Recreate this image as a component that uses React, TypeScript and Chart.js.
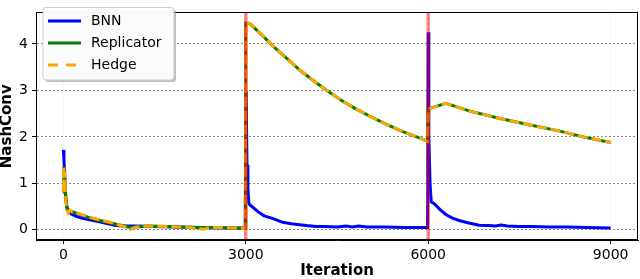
import React, { useEffect, useRef } from 'react';
import { Chart, registerables } from 'chart.js';

Chart.register(...registerables);

const seriesLabels = ['BNN', 'Replicator', 'Hedge'];
const seriesColors = ['#0000ff', '#008000', '#ffa500'];

const bnnIter = [0, 10, 25, 40, 60, 90, 130, 213, 300, 450, 540, 700, 870, 1000, 1200, 1500, 1800, 2200, 2600, 2990,
  3005, 3020, 3035, 3050, 3066, 3200, 3300, 3450, 3607, 3750, 3885, 4000, 4158, 4300, 4500, 4650, 4750, 4850, 5000, 5300, 5600, 5990,
  6000, 6010, 6030, 6050, 6098, 6200, 6290, 6400, 6508, 6650, 6836, 7000, 7100, 7200, 7300, 7492, 7700, 8000, 8300, 8600, 9000];
const bnnVal = [1.72, 1.5, 1.0, 0.7, 0.48, 0.4, 0.34, 0.29, 0.25, 0.21, 0.19, 0.14, 0.09, 0.08, 0.08, 0.07, 0.06, 0.05, 0.04, 0.04,
  3.0, 1.4, 0.9, 0.58, 0.54, 0.39, 0.3, 0.24, 0.16, 0.13, 0.11, 0.09, 0.07, 0.07, 0.06, 0.08, 0.06, 0.08, 0.06, 0.06, 0.05, 0.05,
  4.25, 2.0, 1.0, 0.6, 0.56, 0.43, 0.33, 0.25, 0.2, 0.15, 0.1, 0.09, 0.08, 0.1, 0.08, 0.07, 0.07, 0.06, 0.06, 0.05, 0.04];

const dynIter = [0, 5, 10, 20, 30, 45, 60, 80, 110, 150, 213, 400, 600, 800, 1000, 1100, 1200, 1400, 1700, 2000, 2300, 2400, 2800, 2990,
  3000, 3066, 3284, 3475, 3693, 3885, 4104, 4322, 4568, 4787, 5033, 5279, 5552, 5852, 5990,
  6000, 6016, 6290, 6672, 7164, 7656, 8148, 8585, 9000];
const repVal = [0.8, 1.35, 0.85, 1.3, 0.9, 0.6, 0.45, 0.38, 0.4, 0.39, 0.36, 0.27, 0.2, 0.14, 0.08, 0.05, 0.06, 0.08, 0.07, 0.06, 0.05, 0.05, 0.04, 0.03,
  4.45, 4.44, 4.17, 3.92, 3.67, 3.44, 3.22, 3.01, 2.79, 2.62, 2.45, 2.29, 2.13, 1.98, 1.91,
  2.6, 2.61, 2.72, 2.56, 2.4, 2.26, 2.13, 1.99, 1.88];
const hedgeVal = [0.82, 1.38, 0.8, 1.25, 0.95, 0.55, 0.42, 0.36, 0.42, 0.38, 0.37, 0.28, 0.21, 0.15, 0.07, 0.01, 0.06, 0.08, 0.07, 0.06, 0.01, 0.05, 0.04, 0.03,
  4.45, 4.44, 4.17, 3.92, 3.67, 3.44, 3.22, 3.01, 2.79, 2.62, 2.45, 2.29, 2.13, 1.98, 1.9,
  2.6, 2.61, 2.72, 2.56, 2.4, 2.26, 2.13, 1.99, 1.88];

const xTicks = [0, 3000, 6000, 9000];
const yTicks = [0, 1, 2, 3, 4];
const resetIters = [3000, 6000];

const FONT = "'DejaVu Sans', sans-serif";

const overlay = {
  id: 'overlay',
  afterDatasetsDraw(chart: any) {
    const { ctx, chartArea: a, scales } = chart;
    const x = scales.x;
    ctx.save();
    resetIters.forEach((v) => {
      const px = x.getPixelForValue(v);
      ctx.strokeStyle = 'rgba(255,0,0,0.45)';
      ctx.lineWidth = 3.5;
      ctx.setLineDash([]);
      ctx.beginPath();
      ctx.moveTo(px, a.top);
      ctx.lineTo(px, a.bottom);
      ctx.stroke();
      ctx.strokeStyle = 'rgba(220,0,0,0.35)';
      ctx.lineWidth = 1;
      ctx.setLineDash([3, 2]);
      ctx.beginPath();
      ctx.moveTo(px, a.top);
      ctx.lineTo(px, a.bottom);
      ctx.stroke();
    });
    ctx.restore();
  },
  afterDraw(chart: any) {
    const { ctx, chartArea: a } = chart;
    ctx.save();
    ctx.strokeStyle = '#000';
    ctx.lineWidth = 1;
    ctx.setLineDash([]);
    ctx.strokeRect(Math.round(a.left) + 0.5, Math.round(a.top) + 0.5, Math.round(a.right - a.left) - 1, Math.round(a.bottom - a.top) - 1);
    const lx = 43, ly = 7.5, lw = 131, lh = 72.5, r = 3;
    const rr = (x0: number, y0: number) => {
      ctx.beginPath();
      ctx.moveTo(x0 + r, y0);
      ctx.lineTo(x0 + lw - r, y0);
      ctx.quadraticCurveTo(x0 + lw, y0, x0 + lw, y0 + r);
      ctx.lineTo(x0 + lw, y0 + lh - r);
      ctx.quadraticCurveTo(x0 + lw, y0 + lh, x0 + lw - r, y0 + lh);
      ctx.lineTo(x0 + r, y0 + lh);
      ctx.quadraticCurveTo(x0, y0 + lh, x0, y0 + lh - r);
      ctx.lineTo(x0, y0 + r);
      ctx.quadraticCurveTo(x0, y0, x0 + r, y0);
      ctx.closePath();
    };
    ctx.fillStyle = 'rgba(128,128,128,0.5)';
    rr(lx + 2, ly + 2);
    ctx.fill();
    ctx.fillStyle = 'rgba(255,255,255,0.95)';
    rr(lx, ly);
    ctx.fill();
    ctx.strokeStyle = '#cccccc';
    ctx.lineWidth = 1;
    ctx.stroke();
    chart.data.datasets.forEach((ds: any, i: number) => {
      const y = 21 + i * 22;
      ctx.strokeStyle = ds.borderColor;
      ctx.lineWidth = 3;
      ctx.setLineDash(ds.borderDash && ds.borderDash.length ? [10, 8] : []);
      ctx.beginPath();
      ctx.moveTo(48, y);
      ctx.lineTo(81, y);
      ctx.stroke();
      ctx.setLineDash([]);
      ctx.fillStyle = '#000';
      ctx.font = `14px ${FONT}`;
      ctx.textBaseline = 'middle';
      ctx.textAlign = 'left';
      ctx.fillText(ds.label, 91, y + 0.5);
    });
    ctx.restore();
  },
};

export default function App() {
  const ref = useRef<HTMLCanvasElement | null>(null);
  useEffect(() => {
    if (!ref.current) return;
    const mk = (xs: number[], ys: number[]) => xs.map((x, i) => ({ x, y: ys[i] }));
    const chart = new Chart(ref.current, {
      type: 'line',
      data: {
        datasets: [
          { label: seriesLabels[0], data: mk(bnnIter, bnnVal), borderColor: seriesColors[0], borderWidth: 3, pointRadius: 0, tension: 0, fill: false, order: 3 },
          { label: seriesLabels[1], data: mk(dynIter, repVal), borderColor: seriesColors[1], borderWidth: 3, pointRadius: 0, tension: 0, fill: false, order: 2 },
          { label: seriesLabels[2], data: mk(dynIter, hedgeVal), borderColor: seriesColors[2], borderWidth: 3, pointRadius: 0, tension: 0, fill: false, borderDash: [10, 4], order: 1 },
        ],
      },
      options: {
        animation: false,
        responsive: false,
        devicePixelRatio: 1,
        layout: { padding: { left: 0, right: 2, top: 0, bottom: 0 } },
        plugins: { legend: { display: false }, tooltip: { enabled: false } },
        scales: {
          x: {
            type: 'linear',
            min: -450,
            max: 9450,
            afterBuildTicks: (s: any) => { s.ticks = xTicks.map((v) => ({ value: v })); },
            afterFit: (s: any) => { s.height = 39; },
            ticks: { font: { family: FONT, size: 14 }, color: '#000', padding: 3, maxRotation: 0, autoSkip: false, callback: (v: any) => String(v) },
            grid: { color: 'rgba(0,0,0,0.07)', lineWidth: 1, tickColor: '#000', tickLength: 4, drawTicks: true },
            border: { display: true, color: '#000', width: 1, dash: [2, 2] },
            title: { display: true, text: 'Iteration', color: '#000', font: { family: FONT, size: 15, weight: 'bold', lineHeight: 1 }, padding: { top: 0, bottom: 0 } },
          },
          y: {
            type: 'linear',
            min: -0.22,
            max: 4.68,
            afterBuildTicks: (s: any) => { s.ticks = yTicks.map((v) => ({ value: v })); },
            afterFit: (s: any) => { s.width = 36; },
            ticks: { font: { family: FONT, size: 14 }, color: '#000', padding: 4, autoSkip: false, callback: (v: any) => String(v) },
            grid: { color: 'rgba(0,0,0,0.45)', lineWidth: 1, tickColor: '#000', tickLength: 4, drawTicks: true },
            border: { display: true, color: '#000', width: 1, dash: [2, 2] },
            title: { display: true, text: 'NashConv', color: '#000', font: { family: FONT, size: 15, weight: 'bold', lineHeight: 1 }, padding: { top: 0, bottom: 0 } },
          },
        },
      } as any,
      plugins: [overlay],
    });
    return () => chart.destroy();
  }, []);
  return (
    <div style={{ position: 'absolute', left: 0, top: 0, width: 640, height: 279 }}>
      <canvas ref={ref} width={640} height={279} style={{ width: 640, height: 279, display: 'block' }} />
    </div>
  );
}
